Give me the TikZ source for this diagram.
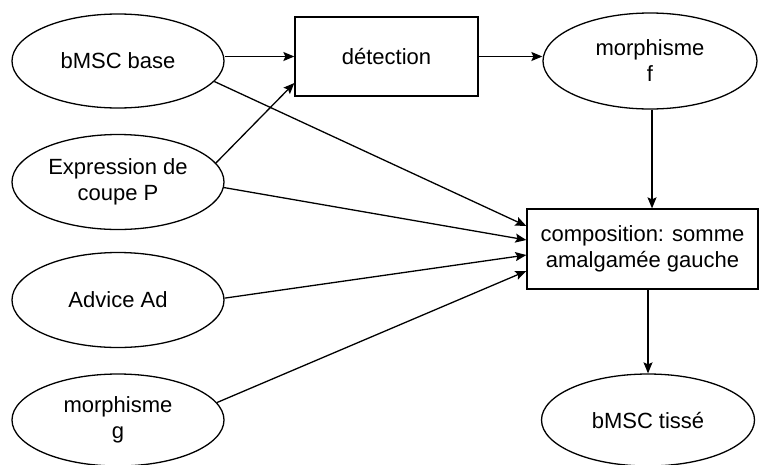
\documentclass[tikz,border=0pt]{standalone}
\usepackage{fontspec}
\setmainfont{Liberation Sans}
\usetikzlibrary{arrows.meta,shapes.geometric,calc}
\begin{document}
\begin{tikzpicture}[x=1pt,y=-1pt,
  every node/.style={font=\fontsize{22}{26}\selectfont, align=center, inner sep=0pt, line width=1.3pt, draw=black},
  ell/.style={ellipse, minimum width=212pt, minimum height=94pt},
  box/.style={rectangle},
  arr/.style={line width=1.3pt, -{Stealth[length=11pt,width=9pt,inset=2pt]}}]
\useasboundingbox (0,0) rectangle (759,464);
\node[ell] (bmsc) at (118,61) {bMSC base};
\node[ell, minimum height=95pt] (expr) at (118,182) {Expression de\\coupe P};
\node[ell, minimum height=95pt] (adv) at (118,300) {Advice Ad};
\node[ell, minimum height=92pt] (mg) at (118,420) {morphisme\\g};
\node[box, minimum width=183pt, minimum height=79pt] (det) at (386.5,56.5) {détection};
\node[ell, minimum width=214pt, minimum height=96pt] (mf) at (650,61) {morphisme\\f};
\node[box, minimum width=231pt, minimum height=80pt] (comp) at (642.5,249) {composition: somme\\amalgamée gauche};
\node[ell, minimum width=213pt, minimum height=92pt] (tis) at (648,420) {bMSC tissé};

\draw[arr] (bmsc.east |- det.west) -- (det.west);
\draw[arr] (expr.11) -- ([yshift=-26.5pt]det.west);
\draw[arr] (det.east) -- (det.east -| mf.west);
\draw[arr] ([xshift=2pt]mf.south) -- ([xshift=2pt]mf.south |- comp.north);
\draw[arr] (bmsc.-12.7) -- ([yshift=23pt]comp.west);
\draw[arr] (expr.-3.2) -- ([yshift=9pt]comp.west);
\draw[arr] (adv.1) -- ([yshift=-6pt]comp.west);
\draw[arr] (mg.10.5) -- ([yshift=-22pt]comp.west);
\draw[arr] (tis.north |- comp.south) -- (tis.north);
\end{tikzpicture}
\end{document}
